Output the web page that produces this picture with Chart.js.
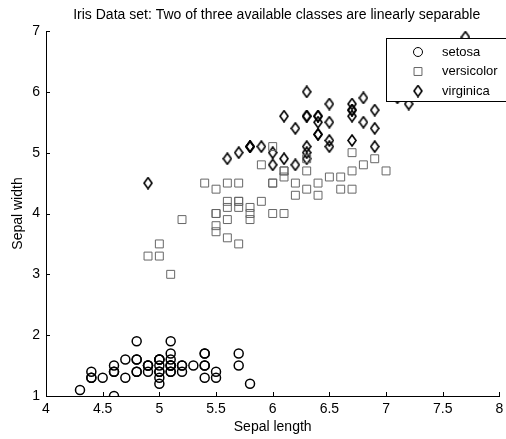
<!DOCTYPE html>
<html>
<head>
<meta charset="utf-8">
<script src="https://cdn.jsdelivr.net/npm/chart.js@4.4.1/dist/chart.umd.min.js"></script>
<style>
  html, body { margin: 0; padding: 0; background: #fff; }
  #wrap { width: 506px; height: 439px; position: relative; }
</style>
</head>
<body>
<div id="wrap"><canvas id="iris-chart"></canvas></div>
<script>
const chartTitle = 'Iris Data set: Two of three available classes are linearly separable';
const xTitle = 'Sepal length';
const yTitle = 'Sepal width';
const classNames = ['setosa', 'versicolor', 'virginica'];

const xTicks = [4, 4.5, 5, 5.5, 6, 6.5, 7, 7.5, 8];
const yTicks = [1, 2, 3, 4, 5, 6, 7];

const setosaX = [5.1, 4.9, 4.7, 4.6, 5.0, 5.4, 4.6, 5.0, 4.4, 4.9, 5.4, 4.8, 4.8, 4.3, 5.8, 5.7, 5.4, 5.1, 5.7, 5.1, 5.4, 5.1, 4.6, 5.1, 4.8, 5.0, 5.0, 5.2, 5.2, 4.7, 4.8, 5.4, 5.2, 5.5, 4.9, 5.0, 5.5, 4.9, 4.4, 5.1, 5.0, 4.5, 4.4, 5.0, 5.1, 4.8, 5.1, 4.6, 5.3, 5.0];
const setosaY = [1.4, 1.4, 1.3, 1.5, 1.4, 1.7, 1.4, 1.5, 1.4, 1.5, 1.5, 1.6, 1.4, 1.1, 1.2, 1.5, 1.3, 1.4, 1.7, 1.5, 1.7, 1.5, 1.0, 1.7, 1.9, 1.6, 1.6, 1.5, 1.4, 1.6, 1.6, 1.5, 1.5, 1.4, 1.5, 1.2, 1.3, 1.5, 1.3, 1.5, 1.3, 1.3, 1.3, 1.6, 1.9, 1.4, 1.6, 1.4, 1.5, 1.4];

const versicolorX = [7.0, 6.4, 6.9, 5.5, 6.5, 5.7, 6.3, 4.9, 6.6, 5.2, 5.0, 5.9, 6.0, 6.1, 5.6, 6.7, 5.6, 5.8, 6.2, 5.6, 5.9, 6.1, 6.3, 6.1, 6.4, 6.6, 6.8, 6.7, 6.0, 5.7, 5.5, 5.5, 5.8, 6.0, 5.4, 6.0, 6.7, 6.3, 5.6, 5.5, 5.5, 6.1, 5.8, 5.0, 5.6, 5.7, 5.7, 6.2, 5.1, 5.7];
const versicolorY = [4.7, 4.5, 4.9, 4.0, 4.6, 4.5, 4.7, 3.3, 4.6, 3.9, 3.5, 4.2, 4.0, 4.7, 3.6, 4.4, 4.5, 4.1, 4.5, 3.9, 4.8, 4.0, 4.9, 4.7, 4.3, 4.4, 4.8, 5.0, 4.5, 3.5, 3.8, 3.7, 3.9, 5.1, 4.5, 4.5, 4.7, 4.4, 4.1, 4.0, 4.4, 4.6, 4.0, 3.3, 4.2, 4.2, 4.2, 4.3, 3.0, 4.1];

const virginicaX = [6.3, 5.8, 7.1, 6.3, 6.5, 7.6, 4.9, 7.3, 6.7, 7.2, 6.5, 6.4, 6.8, 5.7, 5.8, 6.4, 6.5, 7.7, 7.7, 6.0, 6.9, 5.6, 7.7, 6.3, 6.7, 7.2, 6.2, 6.1, 6.4, 7.2, 7.4, 7.9, 6.4, 6.3, 6.1, 7.7, 6.3, 6.4, 6.0, 6.9, 6.7, 6.9, 5.8, 6.8, 6.7, 6.7, 6.3, 6.5, 6.2, 5.9];
const virginicaY = [6.0, 5.1, 5.9, 5.6, 5.8, 6.6, 4.5, 6.3, 5.8, 6.1, 5.1, 5.3, 5.5, 5.0, 5.1, 5.3, 5.5, 6.7, 6.9, 5.0, 5.7, 4.9, 6.7, 4.9, 5.7, 6.0, 4.8, 4.9, 5.6, 5.8, 6.1, 6.4, 5.6, 5.1, 5.6, 6.1, 5.6, 5.5, 4.8, 5.4, 5.6, 5.1, 5.1, 5.9, 5.7, 5.2, 5.0, 5.2, 5.4, 5.1];

const FONT = '"Liberation Sans", Arial, Helvetica, sans-serif';
Chart.defaults.font.family = FONT;
Chart.defaults.font.size = 14;
Chart.defaults.color = '#000';

function toPoints(xs, ys) {
  return xs.map((x, i) => ({ x, y: ys[i] }));
}

// hollow diamond marker, taller than wide like the matlab one
function makeDiamond(w, h, lineWidth, color) {
  const c = document.createElement('canvas');
  c.width = w + 2;
  c.height = h + 2;
  const g = c.getContext('2d');
  g.strokeStyle = color;
  g.lineWidth = lineWidth;
  g.beginPath();
  g.moveTo(c.width / 2, 1);
  g.lineTo(c.width - 1, c.height / 2);
  g.lineTo(c.width / 2, c.height - 1);
  g.lineTo(1, c.height / 2);
  g.closePath();
  g.stroke();
  return c;
}

const diamond = makeDiamond(8, 11, 1.6, '#000');

const titlePlugin = {
  id: 'topTitle',
  afterDraw(chart) {
    const { ctx, chartArea } = chart;
    ctx.save();
    ctx.font = `14px ${FONT}`;
    ctx.fillStyle = '#000';
    ctx.textAlign = 'center';
    ctx.textBaseline = 'middle';
    ctx.fillText(chartTitle, (chartArea.left + chartArea.right) / 2 + 4, chartArea.top - 16);
    ctx.restore();
  },
};

const inwardTicks = {
  id: 'inwardTicks',
  afterDraw(chart) {
    const { ctx, chartArea, scales } = chart;
    ctx.save();
    ctx.strokeStyle = '#000';
    ctx.lineWidth = 1;
    ctx.beginPath();
    scales.x.ticks.forEach((t) => {
      const px = Math.round(scales.x.getPixelForValue(t.value)) + 0.5;
      ctx.moveTo(px, chartArea.bottom);
      ctx.lineTo(px, chartArea.bottom - 4);
    });
    scales.y.ticks.forEach((t) => {
      const py = Math.round(scales.y.getPixelForValue(t.value)) + 0.5;
      ctx.moveTo(chartArea.left, py);
      ctx.lineTo(chartArea.left + 4, py);
    });
    ctx.stroke();
    ctx.restore();
  },
};

// opaque boxed legend in the top right corner, it hides the points under it
const boxLegend = {
  id: 'boxLegend',
  afterDatasetsDraw(chart) {
    const { ctx, chartArea } = chart;
    const left = chartArea.left + 340;
    const top = chartArea.top + 7;
    const height = 63;
    ctx.save();
    ctx.fillStyle = '#fff';
    ctx.fillRect(left, top, 200, height);
    ctx.strokeStyle = '#000';
    ctx.lineWidth = 1;
    ctx.strokeRect(left + 0.5, top + 0.5, 200, height);

    chart.data.datasets.forEach((ds, i) => {
      const cy = top + 14 + i * 19.5;
      ctx.strokeStyle = ds.borderColor;
      ctx.fillStyle = 'rgba(0,0,0,0)';
      Chart.helpers.drawPoint(ctx, {
        pointStyle: ds.pointStyle,
        radius: ds.pointRadius,
        borderWidth: ds.borderWidth,
        rotation: 0,
      }, left + 32, cy);
      ctx.fillStyle = '#000';
      ctx.font = `13px ${FONT}`;
      ctx.textAlign = 'left';
      ctx.textBaseline = 'middle';
      ctx.fillText(ds.label, left + 56, cy);
    });
    ctx.restore();
  },
};

new Chart(document.getElementById('iris-chart'), {
  type: 'scatter',
  data: {
    datasets: [
      {
        label: classNames[0],
        data: toPoints(setosaX, setosaY),
        pointStyle: 'circle',
        pointRadius: 4.5,
        borderWidth: 1.5,
        borderColor: '#000',
        backgroundColor: 'rgba(0,0,0,0)',
      },
      {
        label: classNames[1],
        data: toPoints(versicolorX, versicolorY),
        pointStyle: 'rect',
        pointRadius: 5.6,
        borderWidth: 1,
        borderColor: '#666',
        backgroundColor: 'rgba(0,0,0,0)',
      },
      {
        label: classNames[2],
        data: toPoints(virginicaX, virginicaY),
        pointStyle: diamond,
        pointRadius: 5,
        borderWidth: 1.6,
        borderColor: '#000',
        backgroundColor: 'rgba(0,0,0,0)',
      },
    ],
  },
  options: {
    responsive: true,
    maintainAspectRatio: false,
    animation: false,
    events: [],
    layout: { padding: { left: 0, right: 4, top: 31, bottom: 0 } },
    plugins: {
      legend: { display: false },
      tooltip: { enabled: false },
    },
    scales: {
      x: {
        type: 'linear',
        min: xTicks[0],
        max: xTicks[xTicks.length - 1],
        afterBuildTicks: (scale) => { scale.ticks = xTicks.map((value) => ({ value })); },
        afterFit: (scale) => {
          scale.height = 43;
          scale.paddingLeft = 0;
          scale.paddingRight = 0;
        },
        grid: { display: false, drawTicks: false },
        border: { display: true, color: '#000', width: 1 },
        ticks: { padding: 5, maxRotation: 0, autoSkip: false, callback: (v) => String(v) },
        title: { display: true, text: xTitle, padding: { top: 0, bottom: 3 } },
      },
      y: {
        type: 'linear',
        min: yTicks[0],
        max: yTicks[yTicks.length - 1],
        afterBuildTicks: (scale) => { scale.ticks = yTicks.map((value) => ({ value })); },
        afterFit: (scale) => {
          scale.width = 46;
          scale.paddingTop = 0;
          scale.paddingBottom = 0;
        },
        grid: { display: false, drawTicks: false },
        border: { display: true, color: '#000', width: 1 },
        ticks: { padding: 6, autoSkip: false, callback: (v) => String(v) },
        title: { display: true, text: yTitle, padding: { top: 10, bottom: 0 } },
      },
    },
  },
  plugins: [boxLegend, inwardTicks, titlePlugin],
});
</script>
</body>
</html>
